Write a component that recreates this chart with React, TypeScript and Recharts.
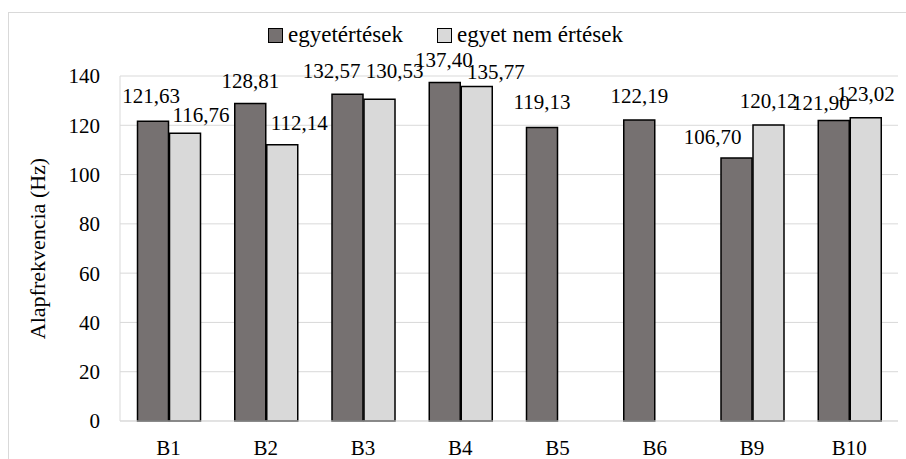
import { BarChart, Bar, XAxis, YAxis, CartesianGrid, LabelList } from "recharts";

const categories = ["B1", "B2", "B3", "B4", "B5", "B6", "B9", "B10"];
const agreement = [121.63, 128.81, 132.57, 137.4, 119.13, 122.19, 106.7, 121.9];
const disagreement = [116.76, 112.14, 130.53, 135.77, null, null, 120.12, 123.02];
const yTicks = [0, 20, 40, 60, 80, 100, 120, 140];
const seriesNames = ["egyetértések", "egyet nem értések"];
const yTitle = "Alapfrekvencia (Hz)";

// label nudges in px (Excel moved some labels so they don't overlap)
const darkDx = [-2, 0, -16, -1, 0, 0, -24, -13];
const darkDy = [-1, 1, 1, 2, -1, 0, 3, 6];
const lightDx = [16, 17, 15, 19, 0, 0, -17, -1];
const lightDy = [6, 2, -4, 10, 0, 0, 2, -6];
const lightLeader = [false, false, false, false, false, false, false, true];

const DARK = "#767171";
const LIGHT = "#d9d9d9";
const GRID = "#d9d9d9";
const FONT = "'Liberation Serif', 'Times New Roman', serif";

const data = categories.map((name, i) => ({
  name,
  agree: agreement[i],
  disagree: disagreement[i],
}));

const fmt = (v: number) => v.toFixed(2).replace(".", ",");

const makeLabel = (dxs: number[], dys: number[], leader?: boolean[]) => (props: any) => {
  const { x, y, width, value, index } = props;
  if (value === null || value === undefined) return null;
  const cx = Number(x) + Number(width) / 2;
  const base = Number(y) - 17 + dys[index];
  const lx = cx + dxs[index];
  return (
    <g>
      {leader && leader[index] ? (
        <line x1={cx} x2={cx} y1={base + 8} y2={Number(y) - 1} stroke="#a6a6a6" strokeWidth={1} />
      ) : null}
      <text x={lx} y={base} textAnchor="middle" fontSize={21} fontFamily={FONT} fill="#000">
        {fmt(Number(value))}
      </text>
    </g>
  );
};

const YTitle = (props: any) => {
  const vb = props.viewBox || { x: 0, y: 76, width: 120, height: 345 };
  const cx = vb.x + 37;
  const cy = vb.y + vb.height / 2;
  return (
    <text
      x={cx}
      y={cy}
      transform={`rotate(-90 ${cx} ${cy})`}
      textAnchor="middle"
      dominantBaseline="central"
      fontSize={22}
      fontFamily={FONT}
      fill="#000"
    >
      {yTitle}
    </text>
  );
};

const LegendBox = () => (
  <div
    style={{
      position: "absolute",
      left: 268,
      top: 21,
      display: "flex",
      alignItems: "center",
      fontFamily: FONT,
      fontSize: 23,
      lineHeight: "28px",
      color: "#000",
      whiteSpace: "nowrap",
    }}
  >
    {seriesNames.map((n, i) => (
      <div key={n} style={{ display: "flex", alignItems: "center", marginRight: 34 }}>
        <span
          style={{
            display: "inline-block",
            width: 13,
            height: 13,
            border: "1px solid #000",
            background: i === 0 ? DARK : LIGHT,
            marginRight: 5,
          }}
        />
        <span>{n}</span>
      </div>
    ))}
  </div>
);

export default function App() {
  return (
    <div style={{ position: "relative", width: 906, height: 459, overflow: "hidden", background: "#fff", fontFamily: FONT }}>
      <style>{"html,body{margin:0;padding:0;overflow:hidden;}"}</style>
      <div
        style={{
          position: "absolute",
          left: 8,
          top: 12,
          width: 920,
          height: 470,
          borderLeft: `1px solid ${GRID}`,
          borderTop: `1px solid ${GRID}`,
        }}
      />
      <div style={{ position: "absolute", left: 0, top: 0 }}>
        <BarChart
          width={906}
          height={459}
          data={data}
          margin={{ top: 76, right: 8, bottom: 8, left: 0 }}
          barCategoryGap="18%"
          barGap={1}
        >
          <CartesianGrid vertical={false} stroke={GRID} strokeWidth={1} />
          <XAxis
            dataKey="name"
            height={30}
            tickLine={false}
            tickSize={0}
            tickMargin={19}
            axisLine={{ stroke: GRID }}
            tick={{ fontSize: 21, fontFamily: FONT, fill: "#000" }}
          />
          <YAxis
            width={120}
            domain={[0, 140]}
            ticks={yTicks}
            tickLine={false}
            tickSize={0}
            tickMargin={20}
            axisLine={{ stroke: GRID }}
            tick={{ fontSize: 21, fontFamily: FONT, fill: "#000" }}
            label={<YTitle />}
          />
          <YAxis
            yAxisId="right"
            orientation="right"
            width={0}
            domain={[0, 140]}
            tick={false}
            tickLine={false}
            axisLine={{ stroke: GRID }}
          />
          <Bar dataKey="agree" name={seriesNames[0]} fill={DARK} stroke="#000" strokeWidth={1.5} isAnimationActive={false}>
            <LabelList dataKey="agree" content={makeLabel(darkDx, darkDy)} />
          </Bar>
          <Bar dataKey="disagree" name={seriesNames[1]} fill={LIGHT} stroke="#000" strokeWidth={1.5} isAnimationActive={false}>
            <LabelList dataKey="disagree" content={makeLabel(lightDx, lightDy, lightLeader)} />
          </Bar>
        </BarChart>
      </div>
      <LegendBox />
    </div>
  );
}
